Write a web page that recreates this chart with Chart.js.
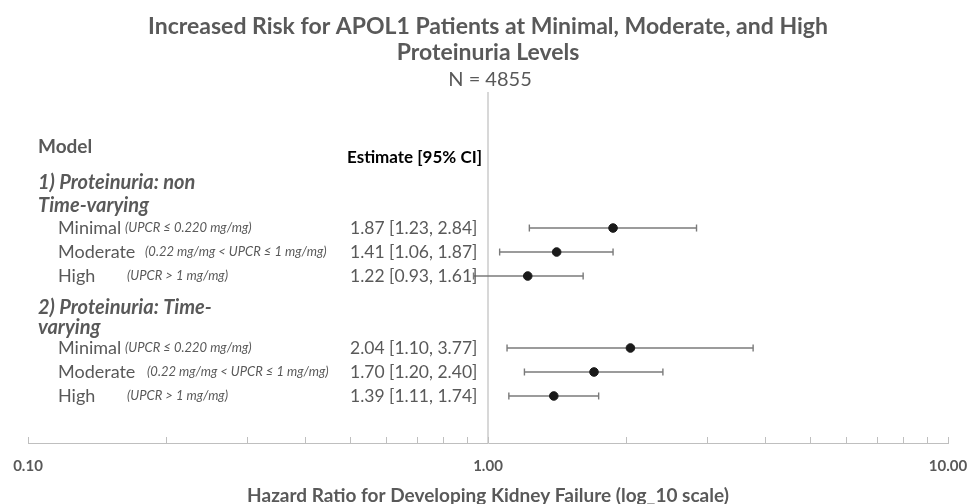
<!DOCTYPE html>
<html>
<head>
<meta charset="utf-8">
<script src="https://cdn.jsdelivr.net/npm/chart.js@4"></script>
<style>
  html, body { margin: 0; padding: 0; background: #fff; }
  #wrap { width: 972px; height: 504px; }
</style>
</head>
<body>
<div id="wrap"><canvas id="forest"></canvas></div>
<script>
// data
const levels = ["Minimal", "Moderate", "High", "Minimal", "Moderate", "High"];
const notes = ["(UPCR \u2264 0.220 mg/mg)", "(0.22 mg/mg < UPCR \u2264 1 mg/mg)", "(UPCR > 1 mg/mg)",
               "(UPCR \u2264 0.220 mg/mg)", "(0.22 mg/mg < UPCR \u2264 1 mg/mg)", "(UPCR > 1 mg/mg)"];
const estimates = [1.87, 1.41, 1.22, 2.04, 1.70, 1.39];
const lower = [1.23, 1.06, 0.93, 1.10, 1.20, 1.11];
const upper = [2.84, 1.87, 1.61, 3.77, 2.40, 1.74];
const rows = [6, 7, 8, 11, 12, 13]; // row slot of each estimate
const groupHeads = [["1) Proteinuria: non", 4.1], ["Time-varying", 5.05], ["2) Proteinuria: Time-", 9.3], ["varying", 10.15]];
const xTicks = [0.1, 0.2, 0.3, 0.4, 0.5, 0.6, 0.7, 0.8, 0.9, 1, 2, 3, 4, 5, 6, 7, 8, 9, 10];
const xLabels = { 0.1: "0.10", 1: "1.00", 10: "10.00" };

const FONT = "Lato, 'Open Sans', sans-serif";
const GREY = "#595959";

// one line per confidence interval, caps drawn as rotated line points
const ciSets = rows.map((r, i) => ({
  type: "line",
  data: [{ x: lower[i], y: r }, { x: upper[i], y: r }],
  borderColor: "#7a7a7a",
  borderWidth: 1.4,
  pointStyle: "line",
  rotation: 90,
  pointRadius: 3.5,
  pointBorderColor: "#7a7a7a",
  pointBorderWidth: 1.4,
  order: 2,
}));

const refLine = {
  type: "line",
  data: [{ x: 1, y: 0.33 }, { x: 1, y: 14.96 }],
  borderColor: "#bfbfbf",
  borderWidth: 1.2,
  pointRadius: 0,
  order: 3,
};

const pointSet = {
  type: "scatter",
  data: rows.map((r, i) => ({ x: estimates[i], y: r })),
  backgroundColor: "#1a1a1a",
  borderColor: "#1a1a1a",
  pointRadius: 4.3,
  order: 1,
};

// text table on the left + title + upward tick marks
const tablePlugin = {
  id: "tableText",
  afterDraw(chart) {
    const ctx = chart.ctx;
    const y = chart.scales.y;
    const x = chart.scales.x;
    ctx.save();
    ctx.textBaseline = "middle";

    // title block
    ctx.textAlign = "center";
    ctx.fillStyle = GREY;
    ctx.font = "bold 23px " + FONT;
    ctx.fillText("Increased Risk for APOL1 Patients at Minimal, Moderate, and High", 488, 27);
    ctx.fillText("Proteinuria Levels", 488, 53);
    ctx.font = "20px " + FONT;
    ctx.fillText("N = 4855", 490, 80);

    ctx.textAlign = "left";
    ctx.font = "bold 19px " + FONT;
    ctx.fillText("Model", 38, y.getPixelForValue(2.63));
    ctx.fillStyle = "#000";
    ctx.font = "bold 17px " + FONT;
    ctx.fillText("Estimate [95% CI]", 347, y.getPixelForValue(3.08));

    ctx.fillStyle = GREY;
    ctx.font = "italic bold 20px " + FONT;
    groupHeads.forEach(([txt, r]) => ctx.fillText(txt, 38, y.getPixelForValue(r)));

    const noteX = [125, 145, 127, 125, 147, 127];
    rows.forEach((r, i) => {
      const py = y.getPixelForValue(r);
      ctx.font = "18px " + FONT;
      ctx.fillText(levels[i], 58, py);
      ctx.font = "italic 13px " + FONT;
      ctx.fillText(notes[i], noteX[i], py);
      ctx.font = "17.5px " + FONT;
      ctx.fillText(`${estimates[i].toFixed(2)} [${lower[i].toFixed(2)}, ${upper[i].toFixed(2)}]`, 350, py);
    });

    // minor/major tick marks pointing up from the axis
    ctx.strokeStyle = "#bfbfbf";
    ctx.lineWidth = 1;
    const base = x.top;
    xTicks.forEach((v) => {
      const px = Math.round(x.getPixelForValue(v)) + 0.5;
      ctx.beginPath();
      ctx.moveTo(px, base);
      ctx.lineTo(px, base - 6);
      ctx.stroke();
    });
    ctx.restore();
  },
};

new Chart(document.getElementById("forest"), {
  data: { datasets: [refLine, ...ciSets, pointSet] },
  options: {
    responsive: true,
    maintainAspectRatio: false,
    animation: false,
    events: [],
    layout: { padding: { top: 92, left: 28, right: 24, bottom: 0 } },
    plugins: { legend: { display: false }, tooltip: { enabled: false } },
    scales: {
      x: {
        type: "logarithmic",
        min: 0.1,
        max: 10,
        afterBuildTicks: (scale) => { scale.ticks = xTicks.map((v) => ({ value: v })); },
        afterFit: (scale) => {
          scale.height = 61;
          scale.paddingLeft = 0;
          scale.paddingRight = 0;
        },
        grid: { display: false, drawTicks: false, tickLength: 0 },
        border: { display: true, color: "#bfbfbf", width: 1 },
        ticks: {
          autoSkip: false,
          maxRotation: 0,
          padding: 14,
          color: GREY,
          font: { family: FONT, size: 15, weight: "bold" },
          callback: (v) => xLabels[v] || "",
        },
        title: {
          display: true,
          text: "Hazard Ratio for Developing Kidney Failure (log_10 scale)",
          color: GREY,
          font: { family: FONT, size: 19, weight: "bold" },
          padding: { top: 4, bottom: -3 },
        },
      },
      y: {
        type: "linear",
        display: false,
        reverse: true,
        min: 0.33,
        max: 14.96,
      },
    },
  },
  plugins: [tablePlugin],
});
</script>
</body>
</html>
